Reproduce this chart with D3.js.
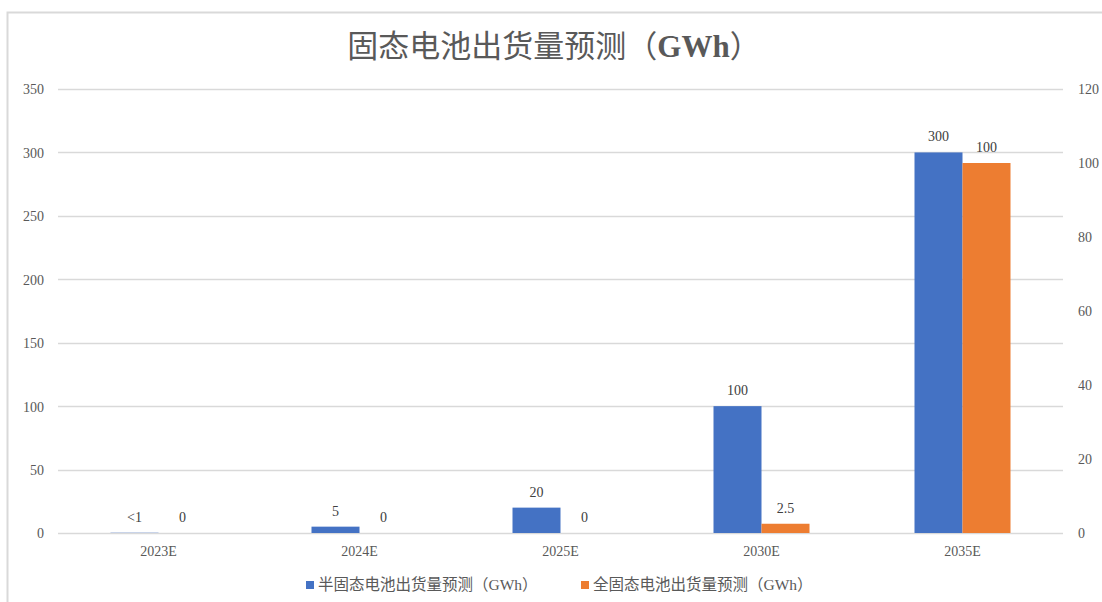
<!DOCTYPE html>
<html lang="zh">
<head>
<meta charset="UTF-8">
<title>固态电池出货量预测</title>
<script src="https://d3js.org/d3.v7.min.js"></script>
<style>
    html, body { margin: 0; padding: 0; background: #fff; }
    svg { display: block; font-family: "Liberation Serif", "Noto Sans CJK SC", serif; }
    .tick text { fill: #595959; font-size: 14px; font-family: "Liberation Serif", serif; }
    .axis path, .axis line { display: none; }
</style>
</head>
<body>
<svg id="chart"></svg>
<script>
// data
const categories = ["2023E", "2024E", "2025E", "2030E", "2035E"];
const seriesNames = ["半固态电池出货量预测（GWh）", "全固态电池出货量预测（GWh）"];
const semiValues = [0.2, 5, 20, 100, 300];
const semiLabels = ["<1", "5", "20", "100", "300"];
const fullValues = [0, 0, 0, 2.5, 100];
const fullLabels = ["0", "0", "0", "2.5", "100"];
const leftTicks = [0, 50, 100, 150, 200, 250, 300, 350];
const rightTicks = [0, 20, 40, 60, 80, 100, 120];

const width = 1102, height = 602;
const plotLeft = 58, plotRight = 1063, plotTop = 89, plotBottom = 533;
const colors = ["#4472c4", "#ed7d31"];

const svg = d3.select("#chart").attr("width", width).attr("height", height);

// frame (cropped chart area border)
svg.append("rect")
    .attr("x", 7.5).attr("y", 12.5)
    .attr("width", width).attr("height", height)
    .attr("fill", "none").attr("stroke", "#d9d9d9").attr("stroke-width", 2);

const title = svg.append("text")
    .attr("x", 554).attr("y", 57)
    .attr("text-anchor", "middle")
    .attr("fill", "#595959")
    .style("font-size", "31px");
title.append("tspan").text("固态电池出货量预测（");
title.append("tspan").attr("font-weight", "bold").text("GWh");
title.append("tspan").text("）");

const x = d3.scaleBand().domain(categories).range([plotLeft, plotRight]).padding(0);
const xs = d3.scaleBand().domain([0, 1]).range([0, x.bandwidth()])
    .paddingInner(0).paddingOuter(1.09375);
const yL = d3.scaleLinear().domain([0, 350]).range([plotBottom, plotTop]);
const yR = d3.scaleLinear().domain([0, 120]).range([plotBottom, plotTop]);

// gridlines
svg.append("g").selectAll("line").data(leftTicks).join("line")
    .attr("x1", plotLeft).attr("x2", plotRight)
    .attr("y1", d => Math.round(yL(d)) + 0.5).attr("y2", d => Math.round(yL(d)) + 0.5)
    .attr("stroke", "#d9d9d9").attr("stroke-width", 1.3);

svg.append("g").attr("class", "axis")
    .attr("transform", `translate(${plotLeft - 14},0)`)
    .call(d3.axisLeft(yL).tickValues(leftTicks).tickSize(0).tickPadding(0))
    .selectAll("text").attr("dy", "0.35em");

svg.append("g").attr("class", "axis")
    .attr("transform", `translate(${plotRight + 15},0)`)
    .call(d3.axisRight(yR).tickValues(rightTicks).tickSize(0).tickPadding(0))
    .selectAll("text").attr("dy", "0.35em");

svg.append("g").attr("class", "axis")
    .attr("transform", `translate(0,${plotBottom + 12})`)
    .call(d3.axisBottom(x).tickSize(0).tickPadding(0))
    .selectAll("text").attr("dy", "0.8em");

const rows = categories.map((c, i) => ({
    cat: c,
    bars: [
        { s: 0, v: semiValues[i], label: semiLabels[i], y: yL },
        { s: 1, v: fullValues[i], label: fullLabels[i], y: yR }
    ]
}));

const groups = svg.append("g").selectAll("g").data(rows).join("g")
    .attr("transform", d => `translate(${x(d.cat)},0)`);

groups.selectAll("rect").data(d => d.bars).join("rect")
    .attr("x", d => xs(d.s))
    .attr("width", xs.bandwidth())
    .attr("y", d => d.y(d.v))
    .attr("height", d => plotBottom - d.y(d.v))
    .attr("fill", d => colors[d.s]);

groups.selectAll("text").data(d => d.bars).join("text")
    .attr("x", d => xs(d.s) + xs.bandwidth() / 2)
    .attr("y", d => d.y(d.v) - 11)
    .attr("text-anchor", "middle")
    .attr("fill", "#404040")
    .style("font-size", "14px")
    .text(d => d.label);

// legend
const legendX = [306, 581];
const legend = svg.append("g").selectAll("g").data(seriesNames).join("g")
    .attr("transform", (d, i) => `translate(${legendX[i]},585)`);
legend.append("rect").attr("x", 0).attr("y", -4).attr("width", 8).attr("height", 8)
    .attr("fill", (d, i) => colors[i]);
legend.append("text").attr("x", 12).attr("dy", "0.35em")
    .attr("fill", "#595959").style("font-size", "15.5px")
    .text(d => d);
</script>
</body>
</html>
